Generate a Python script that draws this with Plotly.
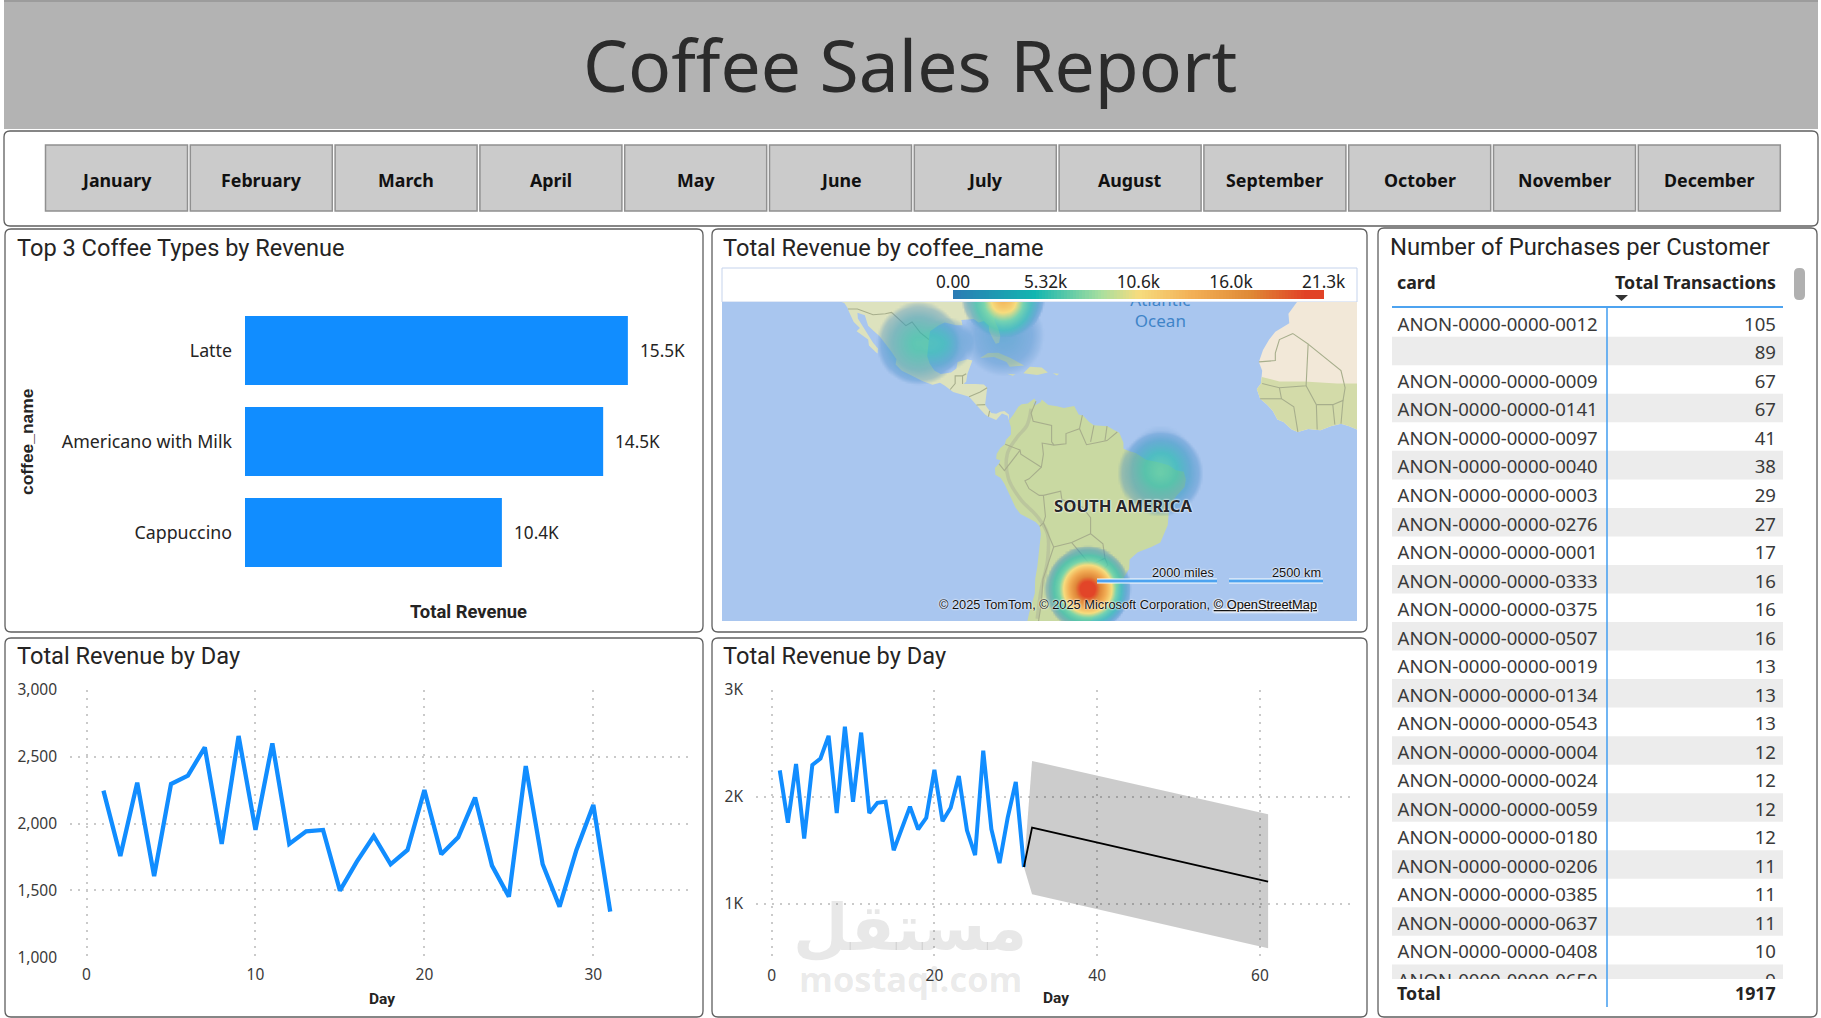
import numpy as np
import plotly.graph_objects as go

W, H = 1821, 1018

# ---- data ----
months = ["January", "February", "March", "April", "May", "June", "July",
          "August", "September", "October", "November", "December"]

coffee_names = ["Latte", "Americano with Milk", "Cappuccino"]
coffee_revenue = [15500, 14500, 10400]
coffee_labels = ["15.5K", "14.5K", "10.4K"]

days = list(range(1, 32))
day_revenue = [2247, 1758, 2307, 1608, 2297, 2359, 2571, 1848, 2656, 1953, 2601,
               1848, 1943, 1953, 1499, 1716, 1908, 1696, 1803, 2252, 1771, 1898,
               2195, 1686, 1454, 2431, 1696, 1379, 1803, 2140, 1342]

forecast_days = [31, 32, 61]
forecast_mid = [1342, 1712, 1206]
forecast_high = [1342, 2336, 1837]
forecast_low = [1342, 1088, 582]

cards = ["ANON-0000-0000-0012", "", "ANON-0000-0000-0009", "ANON-0000-0000-0141",
         "ANON-0000-0000-0097", "ANON-0000-0000-0040", "ANON-0000-0000-0003",
         "ANON-0000-0000-0276", "ANON-0000-0000-0001", "ANON-0000-0000-0333",
         "ANON-0000-0000-0375", "ANON-0000-0000-0507", "ANON-0000-0000-0019",
         "ANON-0000-0000-0134", "ANON-0000-0000-0543", "ANON-0000-0000-0004",
         "ANON-0000-0000-0024", "ANON-0000-0000-0059", "ANON-0000-0000-0180",
         "ANON-0000-0000-0206", "ANON-0000-0000-0385", "ANON-0000-0000-0637",
         "ANON-0000-0000-0408", "ANON-0000-0000-0650"]
transactions = [105, 89, 67, 67, 41, 38, 29, 27, 17, 16, 16, 16, 13, 13, 13,
                12, 12, 12, 12, 11, 11, 11, 10, 9]
total_transactions = 1917

# heat map sources
heat_lon = [-100.0, -93.0, -79.3, -79.3, -41.0, -41.0, -58.8]
heat_lat = [25.2, 25.2, 35.2, 27.0, -5.6, -2.0, -32.0]
heat_value = [5800, 2600, 14000, 2300, 6400, 1500, 21300]
heat_reach = [10.2, 6.5, 10.2, 10.0, 10.4, 8.0, 10.4]
legend_ticks = [0, 5320, 10640, 15960, 21280]
legend_text = ["0.00", "5.32k", "10.6k", "16.0k", "21.3k"]

# coastlines as lon/lat rings
south_america = [(-77.9, 7.2), (-76.8, 8.6), (-75.6, 10.5), (-74.8, 11.1), (-73.3, 11.3), (-71.7, 12.45),
    (-71.3, 11.8), (-71.9, 11.4), (-71.6, 10.8), (-70.2, 11.6), (-69.9, 12.2), (-68.3, 10.9), (-66.2, 10.6),
    (-64.5, 10.2), (-62.0, 10.7), (-60.9, 8.6), (-59.8, 8.3), (-58.4, 6.9), (-57.2, 6.0), (-55.2, 5.9),
    (-53.9, 5.8), (-52.3, 4.9), (-51.0, 4.2), (-50.0, 1.8), (-50.0, 0.3), (-48.5, -0.3), (-47.0, -0.7),
    (-44.5, -2.4), (-41.8, -2.9), (-39.0, -3.7), (-37.2, -4.9), (-35.3, -5.3), (-34.8, -7.2), (-35.1, -9.0),
    (-37.0, -11.0), (-38.5, -13.0), (-39.0, -15.5), (-39.2, -18.0), (-40.0, -20.0), (-41.0, -22.0),
    (-43.2, -23.0), (-45.0, -23.7), (-46.5, -24.2), (-48.5, -25.8), (-48.6, -27.8), (-49.8, -29.5),
    (-51.5, -31.8), (-53.4, -33.8), (-54.9, -34.9), (-56.2, -34.9), (-58.4, -34.0), (-57.2, -35.5),
    (-56.7, -36.5), (-57.6, -38.2), (-59, -38.8), (-62, -39), (-63, -41), (-65, -41), (-65, -43), (-65.5, -45),
    (-67, -46), (-72, -46), (-73.5, -42), (-73.7, -39.5), (-73, -37), (-71.6, -33), (-71.5, -30), (-71.0, -27.5),
    (-70.5, -24), (-70.1, -20), (-70.4, -18.3), (-71.4, -17.3), (-75.1, -15.4), (-76.3, -13.9), (-77.2, -12),
    (-78.2, -10), (-79, -8.2), (-79.9, -6.8), (-81.2, -6), (-81.3, -4.4), (-80.3, -3.3), (-80, -2.5), (-81, -2.2),
    (-80.9, -1), (-80, 0.5), (-78.9, 1.4), (-78.6, 2.5), (-77.4, 3.8), (-77.4, 5.5), (-77.9, 7.2)]

north_america = [(-77.9, 7.2), (-78.2, 8.3), (-79.6, 8.9), (-80.4, 8.0), (-81.0, 7.3), (-82.9, 8.1), (-83.7, 8.6),
    (-85.0, 10), (-85.8, 10.9), (-87.6, 12.9), (-89.4, 13.4), (-91.5, 14), (-93.5, 15.5), (-94.7, 16.2),
    (-96.5, 15.7), (-99, 16.6), (-101.5, 17.8), (-104, 19), (-105.5, 20.4), (-105.3, 21.6), (-106.5, 23.3),
    (-108, 25), (-109.4, 26.7), (-110.9, 27.9), (-112.2, 29), (-113, 31.2), (-114.8, 31.7), (-114.7, 30.5),
    (-113.2, 28.5), (-112, 26.9), (-111, 25.3), (-109.8, 24), (-109.9, 22.9), (-110.3, 23.2), (-112, 24.7),
    (-112.2, 26), (-114.2, 27.2), (-115, 27.8), (-114.2, 28.5), (-115.7, 29.8), (-116.9, 32), (-117.2, 32.7),
    (-118, 33.7), (-120.5, 34.5), (-121, 37), (-76, 37), (-76.5, 35), (-78, 33.9), (-80, 32.5), (-81.3, 31),
    (-81.4, 30), (-80.5, 28.4), (-80, 26.8), (-80.3, 25.3), (-81.1, 25.1), (-81.8, 26.2), (-82.7, 27.8),
    (-82.8, 29), (-84, 30), (-85.3, 29.7), (-86.5, 30.4), (-88, 30.3), (-89.5, 30.2), (-89.2, 29.1), (-90.8, 29.1),
    (-93.5, 29.7), (-95, 29.1), (-97.1, 27.8), (-97.4, 26), (-97.8, 22.3), (-97.2, 20.6), (-96, 19), (-94.5, 18.2),
    (-92, 18.6), (-90.7, 19.5), (-90.4, 21), (-88, 21.6), (-86.8, 21.3), (-87.5, 19.5), (-88, 18.3), (-88.3, 16.5),
    (-88.9, 15.9), (-86, 15.9), (-84, 15.8), (-83.2, 15), (-83.5, 12.5), (-83.7, 11), (-83, 10), (-82.2, 9),
    (-81, 8.8), (-80, 9.3), (-79, 9.5), (-77.9, 8.6), (-77.9, 7.2)]

cuba = [(-84.9, 21.9), (-83, 23), (-80.5, 23.1), (-77.5, 21.9), (-74.2, 20.2), (-77.7, 19.9), (-78.5, 21),
        (-81.5, 22.1), (-84.9, 21.9)]
hispaniola = [(-74.4, 18.4), (-72.8, 19.9), (-69.9, 19.7), (-68.4, 18.6), (-71, 18), (-74.4, 18.4)]
jamaica = [(-78.3, 18.3), (-76.3, 18.1), (-77, 17.8), (-78.3, 18.3)]
puerto_rico = [(-67.2, 18.4), (-65.7, 18.3), (-66.2, 17.9), (-67.2, 18.4)]

africa_north = [(-5.9, 38), (-5.9, 36), (-9.8, 31.5), (-9.6, 29.5), (-13, 27.7), (-14.5, 26), (-16, 23.7), (-17, 21),
    (-16.2, 19), (-16.5, 16), (-17.5, 14.7), (-16.7, 12.4), (-15, 11), (-13.6, 9.5), (-12.5, 7.4), (-11, 6.8),
    (-9, 5), (-7.5, 4.4), (-5, 5.1), (-2, 4.8), (0.5, 5.8), (3, 6.4), (5, 5.8), (8, 4.5), (10, 4), (10, 38), (-5.9, 38)]
africa_south = [(-16.3, 17.5), (-16.5, 16), (-17.5, 14.7), (-16.7, 12.4), (-15, 11), (-13.6, 9.5), (-12.5, 7.4), (-11, 6.8),
    (-9, 5), (-7.5, 4.4), (-5, 5.1), (-2, 4.8), (0.5, 5.8), (3, 6.4), (5, 5.8), (8, 4.5), (10, 4), (10, 16),
    (2, 16), (-6, 16.5), (-12, 16.5), (-16.3, 17.5)]

border_lines = [
    [(-51.5, 4.4), (-54, 2.3), (-56, 1.9), (-59, 1.3), (-60.7, 5.2), (-64, 4), (-64, 1.5), (-66.9, 1.2), (-69.8, 1.7),
     (-69.5, -1), (-70, -4.2), (-73, -7), (-74, -7.5), (-73, -9.4), (-70.5, -11), (-69.5, -11), (-65.3, -10), (-65, -12),
     (-60, -13.8), (-58, -16.3), (-58, -20), (-55, -22.3), (-54.5, -25.5), (-53.8, -27), (-57.6, -30.2), (-53.4, -33.7)],
    [(-71.3, 11.8), (-72.5, 9), (-72, 7), (-67.5, 6), (-67.5, 2), (-66.9, 1.2)],
    [(-60.7, 5.2), (-60, 8.5)], [(-57.2, 6), (-58, 2)], [(-54, 5.8), (-54.5, 2.3)],
    [(-78.8, 1.4), (-75.2, 0), (-75, -1), (-70, -4.2)], [(-80.3, -3.4), (-79, -5), (-75.2, -0.1)],
    [(-69.5, -11), (-69, -16), (-69.5, -17.5), (-70.4, -18.3)], [(-69.5, -17.5), (-68, -21), (-67, -23)],
    [(-67, -23), (-69.6, -30), (-70, -35), (-71, -40)], [(-67, -23), (-62.6, -22), (-58, -20)],
    [(-62.6, -22), (-58, -27), (-54.5, -25.5)], [(-58.4, -34), (-58, -30.5), (-57.6, -30.2)],
    [(-117.1, 32.5), (-114.8, 32.5), (-111, 31.3), (-108, 31.5), (-106.5, 31.8), (-103, 29), (-101.5, 29.8), (-99.5, 27.5), (-97.4, 26)],
    [(-92.2, 14.6), (-91, 16), (-91, 17.8), (-89.2, 17.8), (-88.3, 18.3)], [(-89.2, 17.8), (-89.2, 15.9)],
    [(-85.8, 10.9), (-83.7, 11)], [(-87.6, 12.9), (-84.9, 14), (-83.2, 15)], [(-82.9, 8.1), (-82.6, 9.5)],
    [(-17, 21), (-13, 21.3), (-13, 23), (-12, 26), (-8.7, 27.3)], [(-8.7, 27.3), (-5, 25), (-5.5, 15.5), (-12, 15), (-16.2, 16)],
    [(-12, 15), (-11.5, 12.4), (-8.5, 10.5), (-7.5, 4.4)], [(-16.7, 12.4), (-11.5, 12.4)], [(-5.5, 15.5), (-3, 11), (-2.8, 5)],
    [(-3, 11), (1, 11), (1.5, 6.2)], [(1, 11), (3.5, 12), (3, 6.4)], [(3.5, 12), (4, 15), (3, 19), (-5, 25)],
]

andes_ridge = [(-72.5, 10), (-73.5, 6), (-76, 3), (-78.3, -1), (-78, -7), (-75, -12), (-71, -16), (-68.5, -20), (-68.5, -26),
               (-70, -32), (-71, -38)]


# ---- page geometry helpers (pixels to paper fractions) ----
def fx(x):
    return x / W


def fy(y):
    return 1 - y / H


def dom_x(a, b):
    return [fx(a), fx(b)]


def dom_y(top, bottom):
    return [fy(bottom), fy(top)]


def merc(lat):
    return np.degrees(np.log(np.tan(np.pi / 4 + np.radians(np.asarray(lat, dtype=float)) / 2)))


def rounded(x0, y0, x1, y1, r=6):
    X0, X1, Y0, Y1 = fx(x0), fx(x1), fy(y0), fy(y1)
    rx, ry = r / W, r / H
    return (f"M{X0 + rx},{Y0} L{X1 - rx},{Y0} Q{X1},{Y0} {X1},{Y0 - ry} L{X1},{Y1 + ry} Q{X1},{Y1} {X1 - rx},{Y1} "
            f"L{X0 + rx},{Y1} Q{X0},{Y1} {X0},{Y1 + ry} L{X0},{Y0 - ry} Q{X0},{Y0} {X0 + rx},{Y0} Z")


shapes, notes = [], []


def note(x, y, text, size=15, anchor="left", family="Noto Sans", color="#252423", **kw):
    font = dict(size=size, family=family, color=color)
    font.update(kw.pop("font_extra", {}))
    notes.append(dict(x=fx(x), y=fy(y), xref="paper", yref="paper", text=text, showarrow=False,
                      xanchor=anchor, yanchor="middle", font=font, **kw))


def rect(x0, y0, x1, y1, fill, line=None, lw=1, layer="below"):
    shapes.append(dict(type="rect", xref="paper", yref="paper", x0=fx(x0), x1=fx(x1), y0=fy(y0), y1=fy(y1),
                       fillcolor=fill, line=dict(color=line or fill, width=lw if line else 0), layer=layer))


def seg(x0, y0, x1, y1, color, lw, layer="above"):
    shapes.append(dict(type="line", xref="paper", yref="paper", x0=fx(x0), x1=fx(x1), y0=fy(y0), y1=fy(y1),
                       line=dict(color=color, width=lw), layer=layer))


fig = go.Figure()
TITLE_FONT = "Roboto"
BODY_FONT = "Noto Sans"
INK = "#252423"
BLUE = "#118DFF"
GRID = "#CACACA"

# ---- page furniture ----
rect(4, 0, 1818, 2, "#9C9C9C")
rect(4, 2, 1818, 129, "#B3B3B3")
note(910, 64, "Coffee Sales Report", 71.4, "center", BODY_FONT, "#2B2B2B")

for box in [(4, 131, 1818, 226), (5, 229, 703, 632), (712, 229, 1367, 632),
            (5, 638, 703, 1017), (712, 638, 1367, 1017), (1378, 228, 1817, 1017)]:
    shapes.append(dict(type="path", path=rounded(*box), xref="paper", yref="paper", fillcolor="white",
                       line=dict(color="#5F5F5F", width=1.3), layer="below"))

for i, month in enumerate(months):
    left = 45.5 + i * 144.8
    rect(left, 145, left + 142, 211, "#CBCBCB", "#909090", 1.5)
    note(left + 71, 179.5, f"<b>{month}</b>", 17.8, "center", BODY_FONT, "#111111")

note(14.5, 248, "Top 3 Coffee Types by Revenue", 23.6, family=TITLE_FONT)
note(720.5, 248, "Total Revenue by coffee_name", 23.6, family=TITLE_FONT)
note(14.5, 656, "Total Revenue by Day", 23.6, family=TITLE_FONT)
note(720.5, 656, "Total Revenue by Day", 23.6, family=TITLE_FONT)
note(1387.5, 247, "Number of Purchases per Customer", 23.8, family=TITLE_FONT)

# ---- bar chart ----
fig.add_trace(go.Bar(x=coffee_revenue, y=coffee_names, orientation="h", width=0.756,
                     marker=dict(color=BLUE, line=dict(width=0)), xaxis="x", yaxis="y", hoverinfo="skip"))
for value, name, label in zip(coffee_revenue, coffee_names, coffee_labels):
    notes.append(dict(x=value, y=name, xref="x", yref="y", text=label, showarrow=False, xanchor="left", xshift=10,
                      font=dict(size=17.2, family=BODY_FONT, color=INK)))
note(27, 442, "<b>coffee_name</b>", 17.4, "center", "Liberation Sans", textangle=-90)
note(468, 611, "<b>Total Revenue</b>", 18.4, "center", TITLE_FONT)

# ---- heat map on a Mercator grid ----
rect(722, 268, 1357, 302, "white", "#C5D3EC", 1)
rect(722, 302, 1357, 621, "#A9C6EF")


def ring(points, color, axis_x="x2", axis_y="y2", width=0):
    lons = [p[0] for p in points]
    lats = merc([p[1] for p in points])
    fig.add_trace(go.Scatter(x=lons, y=lats, mode="lines", fill="toself", fillcolor=color, xaxis=axis_x, yaxis=axis_y,
                             line=dict(width=width, color=color), hoverinfo="skip"))


ring(north_america, "#DDE2BE")
ring(south_america, "#C9D9A2")
ring(cuba, "#D5DDAF")
ring(hispaniola, "#D5DDAF")
ring(jamaica, "#D5DDAF")
ring(puerto_rico, "#D5DDAF")
ring(africa_north, "#F2E8D8")
ring(africa_south, "#D3DBA9")

fig.add_trace(go.Scatter(x=[p[0] for p in andes_ridge], y=merc([p[1] for p in andes_ridge]), mode="lines",
                         line=dict(color="rgba(160,160,145,0.32)", width=3.5, shape="spline"), xaxis="x2", yaxis="y2", hoverinfo="skip"))
for path in border_lines:
    fig.add_trace(go.Scatter(x=[p[0] for p in path], y=merc([p[1] for p in path]), mode="lines",
                             line=dict(color="#A7AE8C", width=1.1), xaxis="x2", yaxis="y2", hoverinfo="skip"))

fig.add_trace(go.Scatter(x=[-41.0], y=[merc(34.0)], text=["Atlantic"], mode="text", textposition="middle center",
                         textfont=dict(size=17, family=BODY_FONT, color="#3F84C8"), xaxis="x2", yaxis="y2", hoverinfo="skip"))
fig.add_trace(go.Scatter(x=[-41.0], y=[merc(29.6)], text=["Ocean"], mode="text", textposition="middle center",
                         textfont=dict(size=17, family=BODY_FONT, color="#3F84C8"), xaxis="x2", yaxis="y2", hoverinfo="skip"))

HEAT_MAX = 21300
HEAT_STOPS = [[0, "rgba(60,130,190,0)"], [0.012, "rgba(60,130,190,0.12)"], [0.04, "rgba(60,135,195,0.35)"],
              [0.12, "rgba(50,150,190,0.55)"], [0.25, "rgba(40,185,175,0.7)"], [0.4, "rgba(110,212,170,0.88)"],
              [0.52, "rgb(246,220,126)"], [0.66, "rgb(242,174,85)"], [0.8, "rgb(224,136,58)"], [0.9, "rgb(226,69,40)"],
              [1, "rgb(226,69,40)"]]
grid_lon = np.arange(-148, 7.5, 0.5)
grid_merc = np.arange(-42, 36.5, 0.5)
mesh_lon, mesh_merc = np.meshgrid(grid_lon, grid_merc)
heat = np.zeros_like(mesh_lon)
for lon, lat, value, reach in zip(heat_lon, heat_lat, heat_value, heat_reach):
    dist = np.hypot(mesh_lon - lon, mesh_merc - merc(lat)) / reach
    heat += value * np.clip(1 - dist ** 1.3, 0, None)
# heat sits on its own axes pair so it paints above the land fills
fig.add_trace(go.Heatmap(x=grid_lon, y=grid_merc, z=np.round(np.minimum(heat, HEAT_MAX)), zmin=0, zmax=HEAT_MAX,
                         colorscale=HEAT_STOPS, zsmooth="best", showscale=False, xaxis="x7", yaxis="y7", hoverinfo="skip"))

# legend ramp for the heat map
LEGEND_STOPS = [[0, "#2B7BB4"], [0.22, "#12B5B0"], [0.4, "#A8DF9F"], [0.5, "#F6DC7E"], [0.65, "#F2AE55"], [0.8, "#DF8A36"],
                [0.95, "#E14226"], [1, "#E14226"]]
legend_x = np.linspace(0, HEAT_MAX, 120)
fig.add_trace(go.Heatmap(x=legend_x, y=[0, 1], z=[legend_x, legend_x], zmin=0, zmax=HEAT_MAX, colorscale=LEGEND_STOPS,
                         showscale=False, xaxis="x3", yaxis="y3", hoverinfo="skip"))

halo = dict(shadow="0 0 2px #ffffff, 0 0 2px #ffffff")
note(1123, 505, "<b>SOUTH AMERICA</b>", 16.7, "center", BODY_FONT, "#26262A", font_extra=halo)
for a, b in [(1097, 1217), (1229, 1323)]:
    seg(a, 581, b, 581, "white", 5)
    seg(a, 581, b, 581, "#4DA3F0", 3)
note(1216, 572, "2000 miles", 12.8, "right", "Liberation Sans", "#111111", font_extra=halo)
note(1323, 572, "2500 km", 12.8, "right", "Liberation Sans", "#111111", font_extra=halo)
note(1319, 604, "© 2025 TomTom, © 2025 Microsoft Corporation, <u>© OpenStreetMap</u>", 12.8, "right", "Liberation Sans",
     "#111111", font_extra=halo)

# ---- daily revenue ----
fig.add_trace(go.Scatter(x=days, y=day_revenue, mode="lines", line=dict(color=BLUE, width=4.3), xaxis="x4", yaxis="y4", hoverinfo="skip"))
note(382, 999, "<b>Day</b>", 15.5, "center", TITLE_FONT)

# ---- daily revenue with forecast ----
fig.add_trace(go.Scatter(x=forecast_days + forecast_days[::-1], y=forecast_high + forecast_low[::-1], mode="lines", fill="toself",
                         fillcolor="rgba(0,0,0,0.2)", line=dict(width=0), xaxis="x5", yaxis="y5", hoverinfo="skip"))
fig.add_trace(go.Scatter(x=days, y=day_revenue, mode="lines", line=dict(color=BLUE, width=4), xaxis="x5", yaxis="y5", hoverinfo="skip"))
fig.add_trace(go.Scatter(x=forecast_days, y=forecast_mid, mode="lines", line=dict(color="black", width=1.8), xaxis="x5", yaxis="y5", hoverinfo="skip"))
note(1056, 998, "<b>Day</b>", 15.5, "center", TITLE_FONT)

note(910, 928, "<b>مستقل</b>", 64, "center", "DejaVu Sans", "rgba(95,95,95,0.14)")
note(910, 978, "<b>mostaqi.com</b>", 34.5, "center", "Open Sans", "rgba(95,95,95,0.14)")

# ---- customer table ----
row_index = np.arange(len(cards))
TEXT_NUDGE = 0.13
TABLE_L, TABLE_R = 1392, 1783
fig.add_trace(go.Bar(x=[TABLE_R - TABLE_L] * len(row_index[1::2]), y=row_index[1::2], base=TABLE_L, orientation="h", width=1,
                     marker=dict(color="#ECECEC", line=dict(width=0)), xaxis="x6", yaxis="y6", hoverinfo="skip"))
fig.add_trace(go.Scatter(x=[1397.5] * len(cards), y=row_index + TEXT_NUDGE, text=cards, mode="text", textposition="middle right",
                         textfont=dict(size=18.6, family=BODY_FONT, color="#3A3A3A"), xaxis="x6", yaxis="y6", hoverinfo="skip"))
fig.add_trace(go.Scatter(x=[1776] * len(cards), y=row_index + TEXT_NUDGE, text=[str(v) for v in transactions], mode="text",
                         textposition="middle left", textfont=dict(size=18.6, family=BODY_FONT, color="#3A3A3A"),
                         xaxis="x6", yaxis="y6", hoverinfo="skip"))
note(1395, 282, "<b>card</b>", 17.8, family=BODY_FONT)
note(1778, 282, "<b>Total Transactions</b>", 17.8, "right", BODY_FONT)
note(1395, 993, "<b>Total</b>", 17.8, family=BODY_FONT)
note(1778, 993, f"<b>{total_transactions}</b>", 17.8, "right", BODY_FONT)
seg(TABLE_L, 307, TABLE_R, 307, "#4DA3F0", 2)
seg(1607, 307, 1607, 1007, "#4DA3F0", 1.6)
shapes.append(dict(type="path", xref="paper", yref="paper", layer="above", fillcolor="#333333", line=dict(width=0),
                   path=f"M{fx(1615)},{fy(295)} L{fx(1628)},{fy(295)} L{fx(1621.5)},{fy(301)} Z"))
shapes.append(dict(type="path", xref="paper", yref="paper", layer="above", fillcolor="#B0B0B0", line=dict(width=0),
                   path=rounded(1794, 268, 1805, 300, 5)))

# ---- axes ----
hidden = dict(visible=False, showgrid=False, zeroline=False, fixedrange=True, automargin=False)
tick_font = dict(size=15.5, family=BODY_FONT, color="#3A3A3A")
dotted = dict(showgrid=True, griddash="2px,6px", gridcolor=GRID, gridwidth=1.5, zeroline=False, showline=False, ticks="",
              tickfont=tick_font, automargin=False)

row_px = 28.53
table_top, table_bottom = 308.2, 979.0
map_lon_range = [-147.8, 6.9]
map_merc_range = [-41.7, 36.1]

fig.update_layout(
    template="none",
    width=W, height=H, autosize=False, margin=dict(l=0, r=0, t=0, b=0, pad=0), paper_bgcolor="white", plot_bgcolor="rgba(0,0,0,0)",
    showlegend=False, barmode="overlay", shapes=shapes, annotations=notes,
    xaxis=dict(hidden, domain=dom_x(245, 700), range=[0, 18420]),
    yaxis=dict(domain=dom_y(305, 578), type="category", categoryorder="array", categoryarray=coffee_names[::-1],
               showgrid=False, zeroline=False, showline=False, ticks="", ticklabelstandoff=12, automargin=False,
               tickfont=dict(size=17.8, family=BODY_FONT, color=INK)),
    xaxis2=dict(hidden, domain=dom_x(722, 1357), range=map_lon_range, anchor="y2"),
    yaxis2=dict(hidden, domain=dom_y(302, 621), range=map_merc_range, anchor="x2"),
    xaxis7=dict(hidden, domain=dom_x(722, 1357), range=map_lon_range, anchor="y7"),
    yaxis7=dict(hidden, domain=dom_y(302, 621), range=map_merc_range, anchor="x7"),
    xaxis3=dict(domain=dom_x(953, 1324), range=[0, HEAT_MAX], anchor="y3", side="top", showgrid=False, zeroline=False, showline=False,
                ticks="", tickvals=legend_ticks, ticktext=legend_text, ticklabelstandoff=-2, automargin=False,
                tickfont=dict(size=17.2, family=BODY_FONT, color="#222222"), fixedrange=True),
    yaxis3=dict(hidden, domain=dom_y(290, 299), range=[0, 1], anchor="x3"),
    xaxis4=dict(dotted, domain=dom_x(70, 693), range=[-0.98, 35.9], anchor="y4", tickvals=[0, 10, 20, 30], ticklabelstandoff=6),
    yaxis4=dict(dotted, domain=dom_y(690, 957.3), range=[1000, 3000], anchor="x4", tickvals=[1000, 1500, 2000, 2500, 3000],
                tickformat=",", ticklabelstandoff=12),
    xaxis5=dict(dotted, domain=dom_x(756, 1356), range=[-1.92, 71.8], anchor="y5", tickvals=[0, 20, 40, 60], ticklabelstandoff=6),
    yaxis5=dict(dotted, domain=dom_y(690, 958), range=[490, 3000], anchor="x5", tickvals=[1000, 2000, 3000],
                ticktext=["1K", "2K", "3K"], ticklabelstandoff=12),
    xaxis6=dict(hidden, domain=dom_x(TABLE_L, TABLE_R), range=[TABLE_L, TABLE_R], anchor="y6"),
    yaxis6=dict(hidden, domain=dom_y(table_top, table_bottom),
                range=[(table_bottom - table_top) / row_px - 0.5, -0.5], anchor="x6"),
)

fig.write_html("out.html")
